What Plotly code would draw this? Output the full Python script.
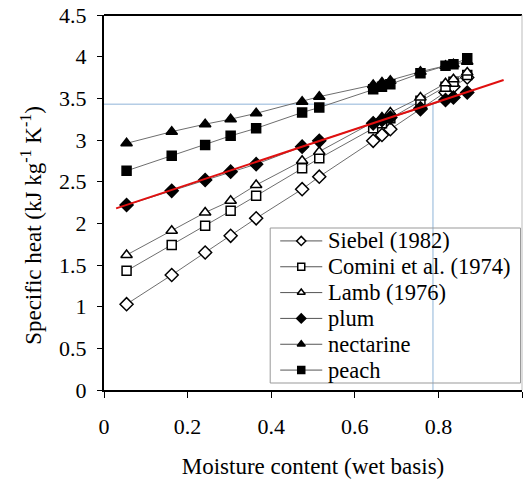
import plotly.graph_objects as go

moisture = [0.054, 0.162, 0.242, 0.303, 0.364, 0.474, 0.515, 0.644, 0.665, 0.685, 0.757, 0.817, 0.836, 0.869]

siebel = [1.03, 1.38, 1.65, 1.85, 2.06, 2.41, 2.56, 2.99, 3.06, 3.13, 3.37, 3.57, 3.64, 3.75]
comini = [1.43, 1.74, 1.97, 2.15, 2.33, 2.66, 2.78, 3.14, 3.20, 3.26, 3.47, 3.64, 3.70, 3.78]
lamb = [1.62, 1.91, 2.13, 2.27, 2.46, 2.75, 2.86, 3.21, 3.27, 3.33, 3.51, 3.68, 3.73, 3.81]
plum = [2.22, 2.39, 2.52, 2.62, 2.71, 2.92, 2.99, 3.20, 3.24, 3.27, 3.38, 3.48, 3.51, 3.57]
nectarine = [2.96, 3.10, 3.19, 3.25, 3.32, 3.46, 3.52, 3.66, 3.69, 3.71, 3.82, 3.89, 3.91, 3.94]
peach = [2.63, 2.81, 2.94, 3.05, 3.14, 3.33, 3.39, 3.61, 3.64, 3.67, 3.80, 3.89, 3.91, 3.98]

fit_x = [0.029, 0.956]
fit_y = [2.18, 3.72]

ref_x = 0.787
ref_y = 3.43

x_ticks = [0, 0.2, 0.4, 0.6, 0.8, 1]
y_ticks = [0, 0.5, 1, 1.5, 2, 2.5, 3, 3.5, 4, 4.5]

series_names = ["Siebel (1982)", "Comini et al. (1974)", "Lamb (1976)", "plum", "nectarine", "peach"]
series_values = [siebel, comini, lamb, plum, nectarine, peach]
series_symbols = ["diamond", "square", "triangle-up", "diamond", "triangle-up", "square"]
series_fills = ["white", "white", "white", "black", "black", "black"]

FONT = "Times New Roman, Liberation Serif, DejaVu Serif, serif"
fig = go.Figure()

# reference lines (light blue)
fig.add_trace(go.Scatter(x=[0, ref_x, ref_x], y=[ref_y, ref_y, 0], mode="lines",
                         line=dict(color="#8fb4d8", width=1), showlegend=False, hoverinfo="skip"))

for name, ys, sym, fill in zip(series_names, series_values, series_symbols, series_fills):
    fig.add_trace(go.Scatter(
        x=moisture, y=ys, mode="lines+markers", name=name, showlegend=False,
        line=dict(color="#6e6e6e", width=1),
        marker=dict(symbol=sym, size=10 if sym != "square" else 9, color=fill,
                    line=dict(color="black", width=1.5)),
    ))

fig.add_trace(go.Scatter(x=fit_x, y=fit_y, mode="lines", line=dict(color="#e01010", width=2),
                         showlegend=False))

# ---- hand-drawn legend on a pixel-unit overlay axis ----
LX0, LX1, LY0, LY1 = 270, 520, 228, 383
row_h = (LY1 - LY0) / len(series_names)
shapes = [
    dict(type="line", xref="paper", yref="paper", x0=0, x1=1, y0=1, y1=1,
         line=dict(color="black", width=2)),
    dict(type="line", xref="paper", yref="paper", x0=1, x1=1, y0=0, y1=1,
         line=dict(color="#bbbbbb", width=1)),
    dict(type="rect", xref="x2", yref="y2", x0=LX0, x1=LX1, y0=LY0, y1=LY1,
         line=dict(color="#999999", width=1)),
]
annotations = [dict(text="Specific heat (kJ kg<sup>-1</sup> K<sup>-1</sup>)", textangle=-90,
                    xref="paper", yref="paper", x=-0.175, y=0.44, xanchor="center", yanchor="middle",
                    showarrow=False, font=dict(family=FONT, size=23))]
for i, (name, sym, fill) in enumerate(zip(series_names, series_symbols, series_fills)):
    cy = LY0 + row_h * (i + 0.5)
    fig.add_trace(go.Scatter(x=[280, 322], y=[cy, cy], mode="lines", xaxis="x2", yaxis="y2",
                             line=dict(color="#555555", width=1), showlegend=False, hoverinfo="skip"))
    fig.add_trace(go.Scatter(x=[301], y=[cy], mode="markers", xaxis="x2", yaxis="y2",
                             marker=dict(symbol=sym, size=7, color=fill, line=dict(color="black", width=1.5)),
                             showlegend=False, hoverinfo="skip"))
    annotations.append(dict(text=name, xref="x2", yref="y2", x=326, y=cy, xanchor="left",
                            yanchor="middle", showarrow=False, font=dict(family=FONT, size=22.5)))

fig.update_layout(
    width=525, height=482,
    margin=dict(l=104, r=3, t=15, b=92),
    paper_bgcolor="white", plot_bgcolor="white",
    font=dict(family=FONT, size=22, color="black"),
    showlegend=False,
    xaxis=dict(range=[0, 1], tickvals=x_ticks, ticktext=[f"{v:g}" for v in x_ticks],
               showgrid=False, zeroline=False, showline=True, linecolor="black", linewidth=2,
               ticks="outside", ticklen=6, tickcolor="black", ticklabelstandoff=10,
               title=dict(text="Moisture content (wet basis)", font=dict(size=23), standoff=19)),
    yaxis=dict(range=[0, 4.5], tickvals=y_ticks, ticktext=[f"{v:g}" for v in y_ticks],
               showgrid=False, zeroline=False, showline=True, linecolor="black", linewidth=2,
               ticks="outside", ticklen=5, tickcolor="black", ticklabelstandoff=6),
    xaxis2=dict(range=[104, 521.5], overlaying="x", visible=False, fixedrange=True),
    yaxis2=dict(range=[390, 15], overlaying="y", visible=False, fixedrange=True),
    annotations=annotations,
    shapes=shapes,
)

fig.write_html("out.html")
